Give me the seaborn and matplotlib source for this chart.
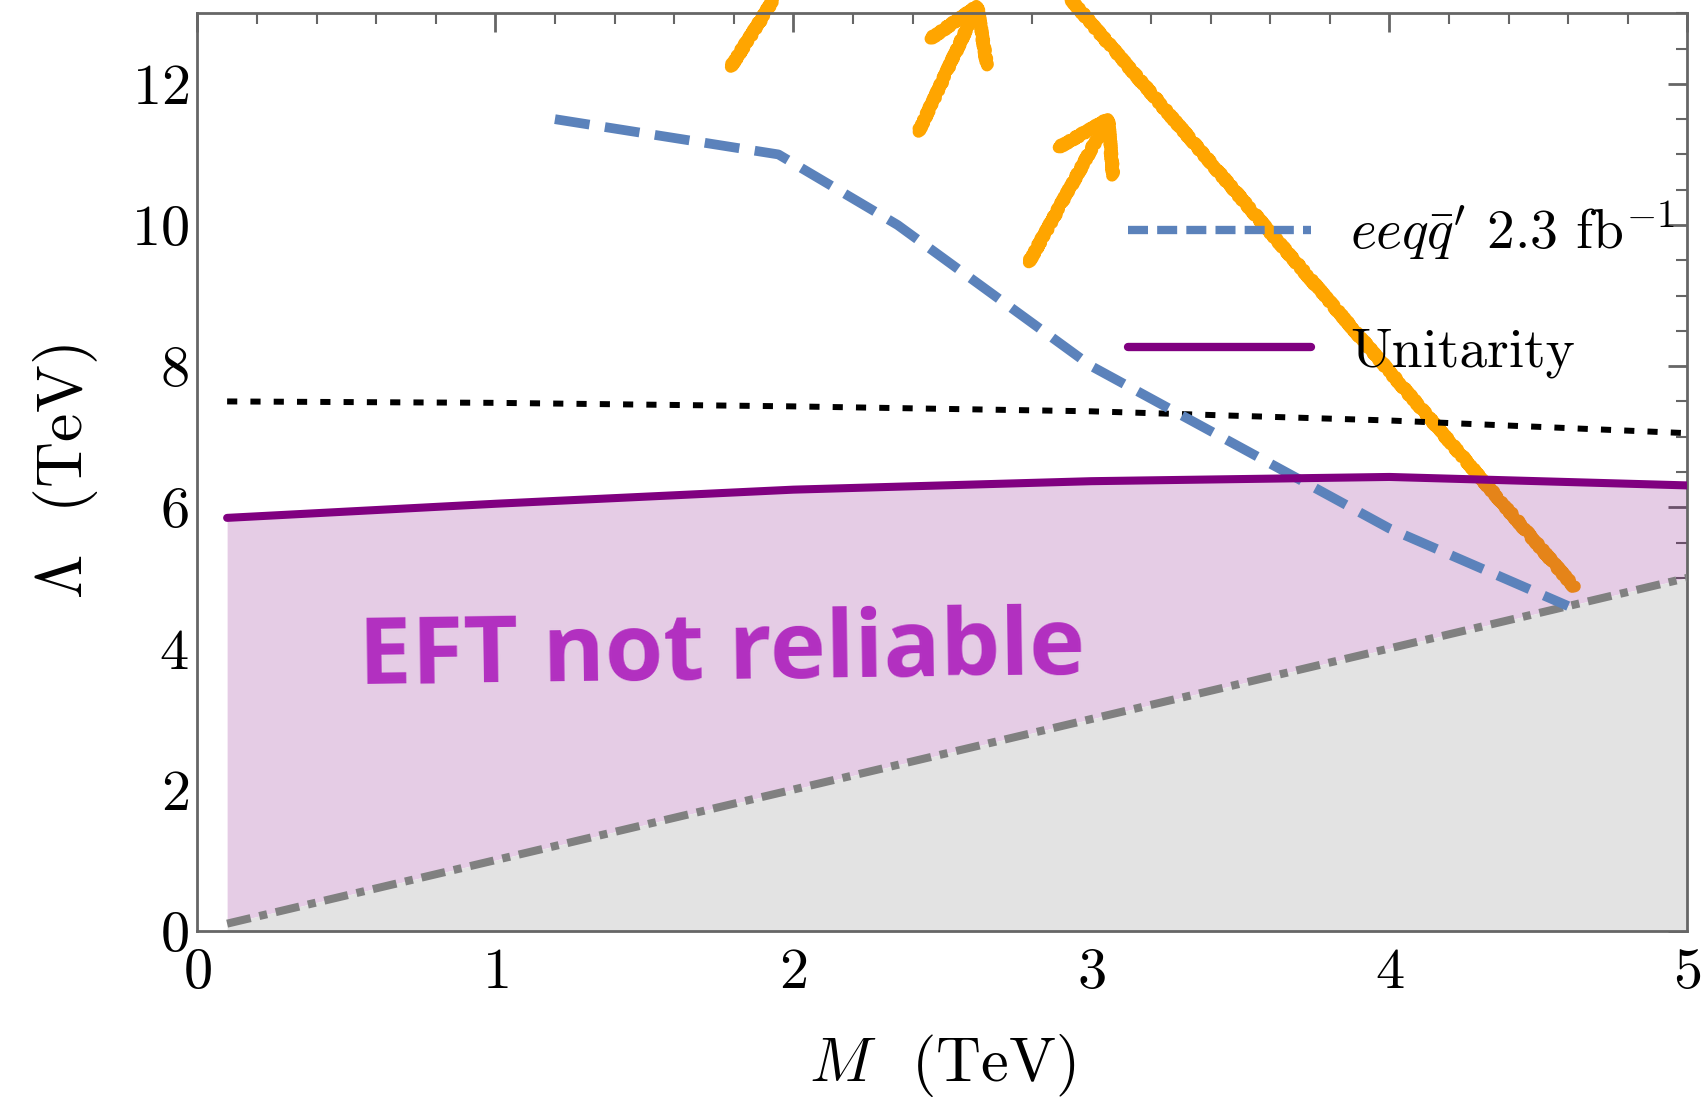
import numpy as np
import pandas as pd
import matplotlib
matplotlib.use("Agg")
import matplotlib.pyplot as plt
import seaborn as sns
from matplotlib.ticker import MultipleLocator

# ========== Data ==========
diag_m = [0.1, 5.0]
diag_l = [0.1, 5.0]

unit_m = [0.1, 1.0, 2.0, 3.0, 4.0, 5.0]
unit_l = [5.85, 6.05, 6.25, 6.37, 6.43, 6.31]

dot_m = [0.1, 1.0, 2.0, 3.0, 4.0, 5.0]
dot_l = [7.50, 7.48, 7.43, 7.36, 7.23, 7.05]

eeqq_m = [1.2, 1.95, 2.35, 3.0, 4.0, 4.6]
eeqq_l = [11.5, 11.0, 10.0, 8.0, 5.7, 4.6]

# hand drawn orange strokes (M, Lambda)
stroke_long = ([2.92, 4.62], [13.25, 4.87])
arrow_a = ([1.79, 1.95], [12.24, 13.3])
arrow_b_shaft = ([2.42, 2.617], [11.32, 13.1])
arrow_b_head = ([2.46, 2.617, 2.65], [12.64, 13.1, 12.26])
arrow_c_shaft = ([2.79, 3.056], [9.47, 11.5])
arrow_c_head = ([2.89, 3.056, 3.073], [11.1, 11.5, 10.7])

sns.set_theme(style="white")
plt.rcParams['font.family'] = ['cmr10', 'DejaVu Serif']
plt.rcParams['mathtext.fontset'] = 'cm'
plt.rcParams['axes.formatter.use_mathtext'] = True
plt.rcParams['axes.unicode_minus'] = False
plt.rcParams['text.color'] = 'black'
plt.rcParams['axes.labelcolor'] = 'black'

fig = plt.figure(figsize=(17.01, 11.08), dpi=100)
ax = fig.add_axes([0.116, 0.160, 0.876, 0.828])

df_u = pd.DataFrame({"M": unit_m, "L": unit_l})
df_d = pd.DataFrame({"M": dot_m, "L": dot_l})
df_e = pd.DataFrame({"M": eeqq_m, "L": eeqq_l})
df_g = pd.DataFrame({"M": diag_m, "L": diag_l})

orange = "#ffa500"
# orange strokes first, the purple fill sits on top of them
for xs, ys in [stroke_long, arrow_a, arrow_b_shaft, arrow_b_head, arrow_c_shaft, arrow_c_head]:
    ln, = ax.plot(xs, ys, color=orange, lw=8.5, solid_capstyle="round",
                  solid_joinstyle="round", clip_on=False, zorder=1)
    ln.set_sketch_params(scale=1.5, length=4, randomness=4)

# shaded regions
m_fill = np.array(unit_m)
diag_fill = np.interp(m_fill, diag_m, diag_l)
ax.fill_between(m_fill, diag_fill, unit_l, color="purple", alpha=0.2, lw=0, zorder=2)
ax.fill_between(diag_m, 0, diag_l, color="#e3e3e3", lw=0, zorder=2)

sns.lineplot(data=df_d, x="M", y="L", ax=ax, color="black", lw=4.3, zorder=3)
ax.lines[-1].set_dashes((1.7, 2.2))
sns.lineplot(data=df_g, x="M", y="L", ax=ax, color="gray", lw=5.8, zorder=3)
ax.lines[-1].set_dashes((3.0, 1.1, 1.0, 1.1))
sns.lineplot(data=df_e, x="M", y="L", ax=ax, color="#5b82bb", lw=7, zorder=4,
             label=r"$eeq\bar{q}'$ 2.3 fb$^{-1}$")
ax.lines[-1].set_dashes((3.6, 1.6))
sns.lineplot(data=df_u, x="M", y="L", ax=ax, color="purple", lw=5.8, zorder=5,
             label="Unitarity")

ax.text(1.76, 3.92, "EFT not reliable", family="Open Sans", weight="bold",
        fontsize=68, color="#b22fc0", rotation=0.8, ha="center", va="center",
        zorder=6)

ax.set_xlim(0, 5)
ax.set_ylim(0, 13)
ax.xaxis.set_major_locator(MultipleLocator(1))
ax.xaxis.set_minor_locator(MultipleLocator(0.2))
ax.yaxis.set_major_locator(MultipleLocator(2))
ax.yaxis.set_minor_locator(MultipleLocator(0.5))
ax.tick_params(which="both", direction="in", top=True, right=True,
               color="#666666", labelsize=42, labelcolor="black")
ax.tick_params(which="major", length=14, width=2)
ax.tick_params(which="minor", length=8, width=1.5)
ax.tick_params(axis="x", pad=12)
ax.tick_params(axis="y", pad=6)
for s in ax.spines.values():
    s.set_color("#666666")
    s.set_linewidth(2)

ax.set_xlabel(r"$M$  (TeV)", fontsize=45, labelpad=24)
ax.set_ylabel(r"$\Lambda$  (TeV)", fontsize=46, labelpad=22)

leg = ax.legend(loc="upper right", bbox_to_anchor=(1.025, 0.851), frameon=False,
                fontsize=40, handlelength=3.3, labelspacing=1.15,
                handletextpad=0.7)
leg.set_zorder(7)
for h in leg.get_lines():
    h.set_linewidth(6)
leg.get_lines()[0].set_dashes((2.4, 1.1))

plt.savefig("out.png", dpi=100)
plt.close()
